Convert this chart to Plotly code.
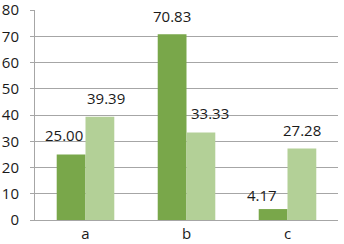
import plotly.graph_objects as go

categories = ["a", "b", "c"]
series1_values = [25.00, 70.83, 4.17]
series2_values = [39.39, 33.33, 27.28]
label1_text = ["25.00", "70.83", "4.17"]
label2_text = ["39.39", "33.33", "27.28"]
y_ticks = [0, 10, 20, 30, 40, 50, 60, 70, 80]

# label offsets in pixels (styling only)
s1_dx = [-7, 0, -11]
s1_dy = [7, 6, 2]
s2_dx = [6.5, 9.6, 0]
s2_dy = [6.3, 7.7, 6.7]

dark = "#79A74A"
light = "#B3D097"
font = dict(family="Open Sans", size=15, color="#1a1a1a")

fig = go.Figure()
fig.add_bar(x=categories, y=series1_values, marker=dict(color=dark, line=dict(width=0)))
fig.add_bar(x=categories, y=series2_values, marker=dict(color=light, line=dict(width=0)))

half = 14.3
for i, c in enumerate(categories):
    fig.add_annotation(x=c, y=series1_values[i], text=label1_text[i], showarrow=False,
                       xshift=-half + s1_dx[i], yshift=s1_dy[i], yanchor="bottom",
                       font=font)
    fig.add_annotation(x=c, y=series2_values[i], text=label2_text[i], showarrow=False,
                       xshift=half + s2_dx[i], yshift=s2_dy[i], yanchor="bottom",
                       font=font)

fig.update_layout(
    width=344, height=244,
    margin=dict(l=35, r=6, t=10, b=24),
    paper_bgcolor="white", plot_bgcolor="white",
    barmode="group", bargap=0.43, bargroupgap=0,
    showlegend=False,
    font=font,
)
fig.update_yaxes(range=[0, 80.05], tickvals=y_ticks, showgrid=True, gridcolor="#A6A6A6",
                 gridwidth=1, showline=True, linecolor="#A6A6A6", linewidth=1,
                 ticks="outside", ticklen=4, tickcolor="#A6A6A6", zeroline=False,
                 ticklabelstandoff=8, tickfont=font, automargin=False,
                 ticklabeloverflow="allow")
fig.update_xaxes(showline=True, linecolor="#A6A6A6", linewidth=1, ticks="",
                 showgrid=False, tickfont=font, automargin=False, ticklabelstandoff=0)

fig.write_html("out.html", config={"displayModeBar": False},
               post_script="document.body.style.margin='0';")
